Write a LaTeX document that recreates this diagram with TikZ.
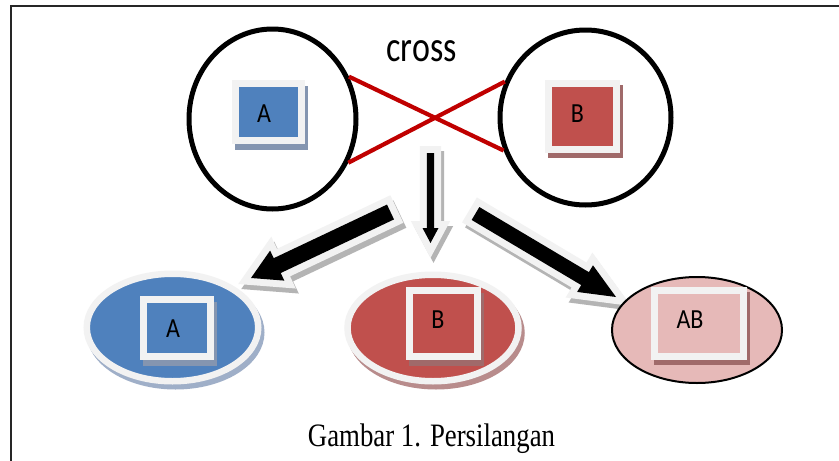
\documentclass[tikz,border=0pt]{standalone}
\usepackage{fontspec}
\newfontfamily\calib{Carlito}
\newfontfamily\tms{Liberation Serif}
\usetikzlibrary{calc,shapes.geometric}
\definecolor{cblue}{HTML}{4F81BD}
\definecolor{cred}{HTML}{C0504D}
\definecolor{cpink}{HTML}{E6B9B8}
\definecolor{cframe}{HTML}{F2F2F2}
\definecolor{cline}{HTML}{C00000}
\definecolor{shblue}{HTML}{8495B0}
\definecolor{shred}{HTML}{A06A6A}
\definecolor{shbluelt}{HTML}{9FAFC8}
\definecolor{shredlt}{HTML}{B88C8C}
\definecolor{shgray}{HTML}{B4B4B4}
% block arrow geometry: #1 prefix, #2 tail, #3 tip, #4 shaft half width, #5 head half width, #6 head length
\newcommand\mkblockarrow[6]{%
  \coordinate (#1p) at (#3);
  \coordinate (#1b) at ($(#3)!#6!(#2)$);
  \coordinate (#1t1) at ($(#2)!#4!90:(#3)$);
  \coordinate (#1t2) at ($(#2)!#4!-90:(#3)$);
  \coordinate (#1b1) at ($(#1b)!#4!90:(#3)$);
  \coordinate (#1b2) at ($(#1b)!#4!-90:(#3)$);
  \coordinate (#1h1) at ($(#1b)!#5!90:(#3)$);
  \coordinate (#1h2) at ($(#1b)!#5!-90:(#3)$);
}
\newcommand\blockarrowpath[3]{%
  \path[#3] ([shift={#2}]#1t1) -- ([shift={#2}]#1b1) -- ([shift={#2}]#1h1) --
    ([shift={#2}]#1p) -- ([shift={#2}]#1h2) -- ([shift={#2}]#1b2) --
    ([shift={#2}]#1t2) -- cycle;
}
\newcommand\drawblockarrow[1]{%
  \blockarrowpath{#1}{(3,5)}{fill=shgray, draw=shgray, line width=14pt, line join=miter}
  \blockarrowpath{#1}{(0,0)}{fill=cframe, draw=cframe, line width=14pt, line join=miter}
  \blockarrowpath{#1}{(0,0)}{fill=black}
}
\begin{document}
\begin{tikzpicture}[x=1pt,y=-1pt,
  parent/.style={ellipse, draw=black, line width=5pt, inner sep=0pt, fill=white},
  sqbox/.style={rectangle, draw=cframe, line width=7pt, inner sep=0pt},
  sqshadow/.style={rectangle, fill=#1, draw=none, inner sep=0pt},
  child/.style={ellipse, draw=cframe, line width=6.5pt, inner sep=0pt},
  childshadow/.style={ellipse, draw=#1, fill=#1, line width=6.5pt, inner sep=0pt},
  lbl/.style={font=\calib\fontsize{24}{28}\selectfont, inner sep=0pt, anchor=base},
  redline/.style={draw=cline, line width=4.2pt}]
\useasboundingbox (0,0) rectangle (839,461);
\fill[white] (0,0) rectangle (839,461);
% frame
\draw[line width=2pt, black!85] (11,461) -- (11,6) -- (839,6);

% parents
\node[parent, minimum width=167pt, minimum height=180pt] (pA) at (272.5,119) {};
\node[parent, minimum width=171pt, minimum height=175pt] (pB) at (585.5,117.5) {};
\draw[redline] (pA.29.4) -- (pB.202);
\draw[redline] (pA.-30) -- (pB.156);
\node[font=\calib\fontsize{34}{40}\selectfont, anchor=base, inner sep=0pt] (cross) at (421.5,61.7) {\scalebox{1}[1.27]{cross}};

\node[sqshadow=shblue, minimum width=73.5pt, minimum height=63.5pt] (sqAs) at (271.25,117.75) {};
\node[sqbox, fill=cblue, minimum width=66.5pt, minimum height=56.5pt] (sqA) at (268.25,111.75) {};
\node[lbl] (lA) at (264,122) {\scalebox{1}[1.15]{A}};

\node[sqshadow=shred, minimum width=75pt, minimum height=73pt] (sqBs) at (585.5,121.5) {};
\node[sqbox, fill=cred, minimum width=68pt, minimum height=66pt] (sqB) at (582.5,116.5) {};
\node[lbl] (lB) at (577.5,122) {\scalebox{1}[1.15]{B}};

% arrows
\coordinate (Ltail) at (390.5,212);
\coordinate (Ltip) at (251,278);
\coordinate (Mtail) at (430.5,153);
\coordinate (Mtip) at (430.5,243);
\coordinate (Rtail) at (475.5,213.5);
\coordinate (Rtip) at (616,297);
\mkblockarrow{L}{Ltail}{Ltip}{8.2pt}{16.6pt}{29pt}
\mkblockarrow{M}{Mtail}{Mtip}{3.7pt}{8pt}{15pt}
\mkblockarrow{R}{Rtail}{Rtip}{7.5pt}{15.5pt}{36pt}
\drawblockarrow{L}
\drawblockarrow{M}
\drawblockarrow{R}

% children
\node[childshadow=shbluelt, minimum width=171.5pt, minimum height=107.5pt] (cAs) at (175.5,332.5) {};
\node[child, fill=cblue, minimum width=171.5pt, minimum height=107.5pt] (cA) at (172.5,327.5) {};
\node[sqshadow=shblue, minimum width=73.5pt, minimum height=64pt] (sqcAs) at (179.75,334) {};
\node[sqbox, fill=cblue, minimum width=66.5pt, minimum height=57pt] (sqcA) at (176.75,328) {};
\node[lbl] (lcA) at (173,337) {\scalebox{1}[1.15]{A}};

\node[childshadow=shredlt, minimum width=171pt, minimum height=106.5pt] (cBs) at (436,333) {};
\node[child, fill=cred, minimum width=171pt, minimum height=106.5pt] (cB) at (433,328) {};
\node[sqshadow=shred, minimum width=75pt, minimum height=73pt] (sqcBs) at (446.5,329.5) {};
\node[sqbox, fill=cred, minimum width=68pt, minimum height=66pt] (sqcB) at (443.5,323.5) {};
\node[lbl] (lcB) at (438,328) {\scalebox{1}[1.15]{B}};

\node[ellipse, draw=black, line width=2pt, fill=cpink, inner sep=0pt, minimum width=170pt, minimum height=106pt] (cAB) at (697,330) {};
\node[sqshadow=shred, minimum width=95.5pt, minimum height=73pt] (sqcABs) at (701.75,328.5) {};
\node[sqbox, fill=cpink, minimum width=88.5pt, minimum height=66pt] (sqcAB) at (698.75,323.5) {};
\node[lbl] (lcAB) at (690,328) {\scalebox{1}[1.15]{AB}};

% caption
\node[font=\tms\fontsize{26.8}{32}\selectfont, anchor=base, inner sep=0pt] (cap) at (431.5,446.7) {\scalebox{1}[1.22]{Gambar 1. Persilangan}};
\end{tikzpicture}
\end{document}
